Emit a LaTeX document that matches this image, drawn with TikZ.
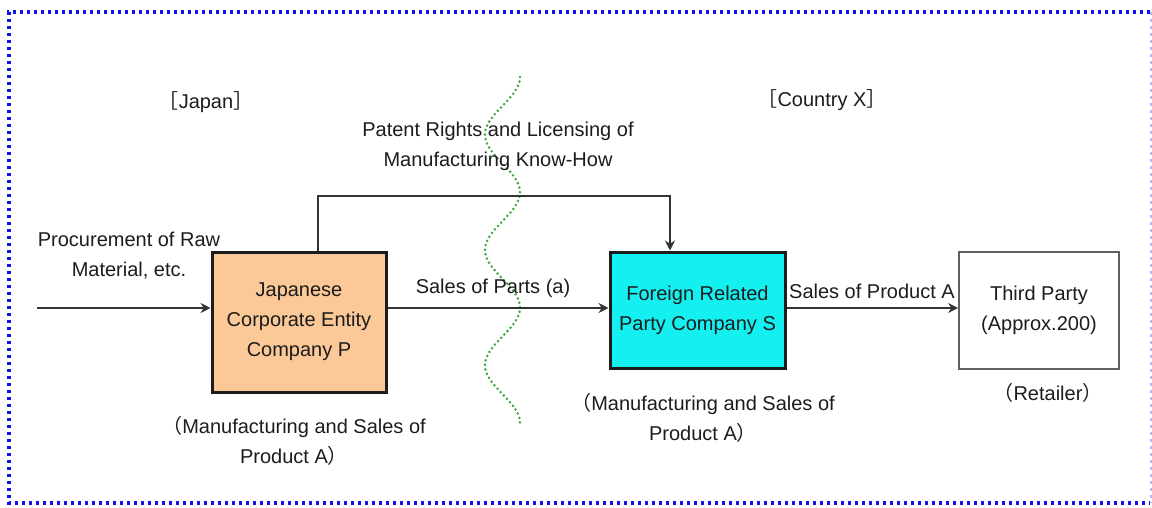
\documentclass[tikz,border=0pt]{standalone}
\usepackage{fontspec}
\setmainfont{Liberation Sans}
\newfontfamily\cjk{Noto Sans CJK JP}
\usetikzlibrary{arrows.meta}
\definecolor{ink}{HTML}{1C1C1C}
\definecolor{peach}{HTML}{FBC897}
\definecolor{aqua}{HTML}{14F0F0}
\definecolor{frameblue}{HTML}{1010F0}
\definecolor{wave}{HTML}{3CA83C}
\tikzset{
  lbl/.style={text=ink, align=center, font=\fontsize{20}{30}\selectfont, inner sep=0pt},
  entity/.style={draw=ink, line width=3pt, align=center, text=ink,
    font=\fontsize{20}{30}\selectfont, inner sep=0pt},
  flow/.style={draw=ink!90, line width=2.4pt, -{Stealth[length=10pt,width=10pt]}},
}
\begin{document}
\begin{tikzpicture}[x=1pt,y=-1pt]
\useasboundingbox (0,0) rectangle (1152,507);
% dotted frame
\draw[frameblue, line width=3.5pt, dash pattern=on 3pt off 4pt]
  (1150,12) -- (9,12) -- (9,503) -- (1150,503);
\draw[frameblue!30, line width=2pt, dash pattern=on 3pt off 4pt] (1150.5,12) -- (1150.5,503);

% border between the two countries
\draw[wave, line width=2.8pt, dash pattern=on 0pt off 4.6pt, line cap=round]
  plot[domain=77:423, samples=150, variable=\t] ({502.5+17.5*cos(3.1223*(\t-77))}, \t);

% region headings
\node[lbl] (jp) at (206,102) {{\cjk ［}Japan{\cjk ］}};
\node[lbl] (cx) at (822,100) {{\cjk ［}Country X{\cjk ］}};

% entities
\node[entity, fill=peach, minimum width=174pt, minimum height=140pt] (P) at (299,322)
  {Japanese\\Corporate Entity\\Company P};
\node[entity, fill=aqua, minimum width=175pt, minimum height=116pt] (S) at (697.5,310)
  {Foreign Related\\Party Company S};
\node[entity, draw=ink!70, line width=1.8pt, fill=white, minimum width=160pt, minimum height=117pt] (T) at (1039,310.5)
  {Third Party\\(Approx.200)};

% flows
\coordinate (src) at (37,308);
\draw[flow] (src) -- (src -| P.west);
\draw[flow] (src -| P.east) -- (src -| S.west);
\draw[flow] (src -| S.east) -- (src -| T.west);
\coordinate (lic) at (670,196);
\draw[flow] (P.north -| 318,0) |- (lic) -- (S.north -| lic);

% flow labels
\node[lbl] (raw) at (129,256) {Procurement of Raw\\Material, etc.};
\node[lbl] (parts) at (493,288) {Sales of Parts (a)};
\node[lbl] (prod) at (872,291) {Sales of Product A};
\node[lbl] (pat) at (498,146) {Patent Rights and Licensing of\\Manufacturing Know-How};

% roles
\node[lbl] (roleP) at (294,441) {{\cjk （}Manufacturing and Sales of\\Product A{\cjk ）}};
\node[lbl] (roleS) at (703,418) {{\cjk （}Manufacturing and Sales of\\Product A{\cjk ）}};
\node[lbl] (roleT) at (1048,393) {{\cjk （}Retailer{\cjk ）}};
\end{tikzpicture}
\end{document}
